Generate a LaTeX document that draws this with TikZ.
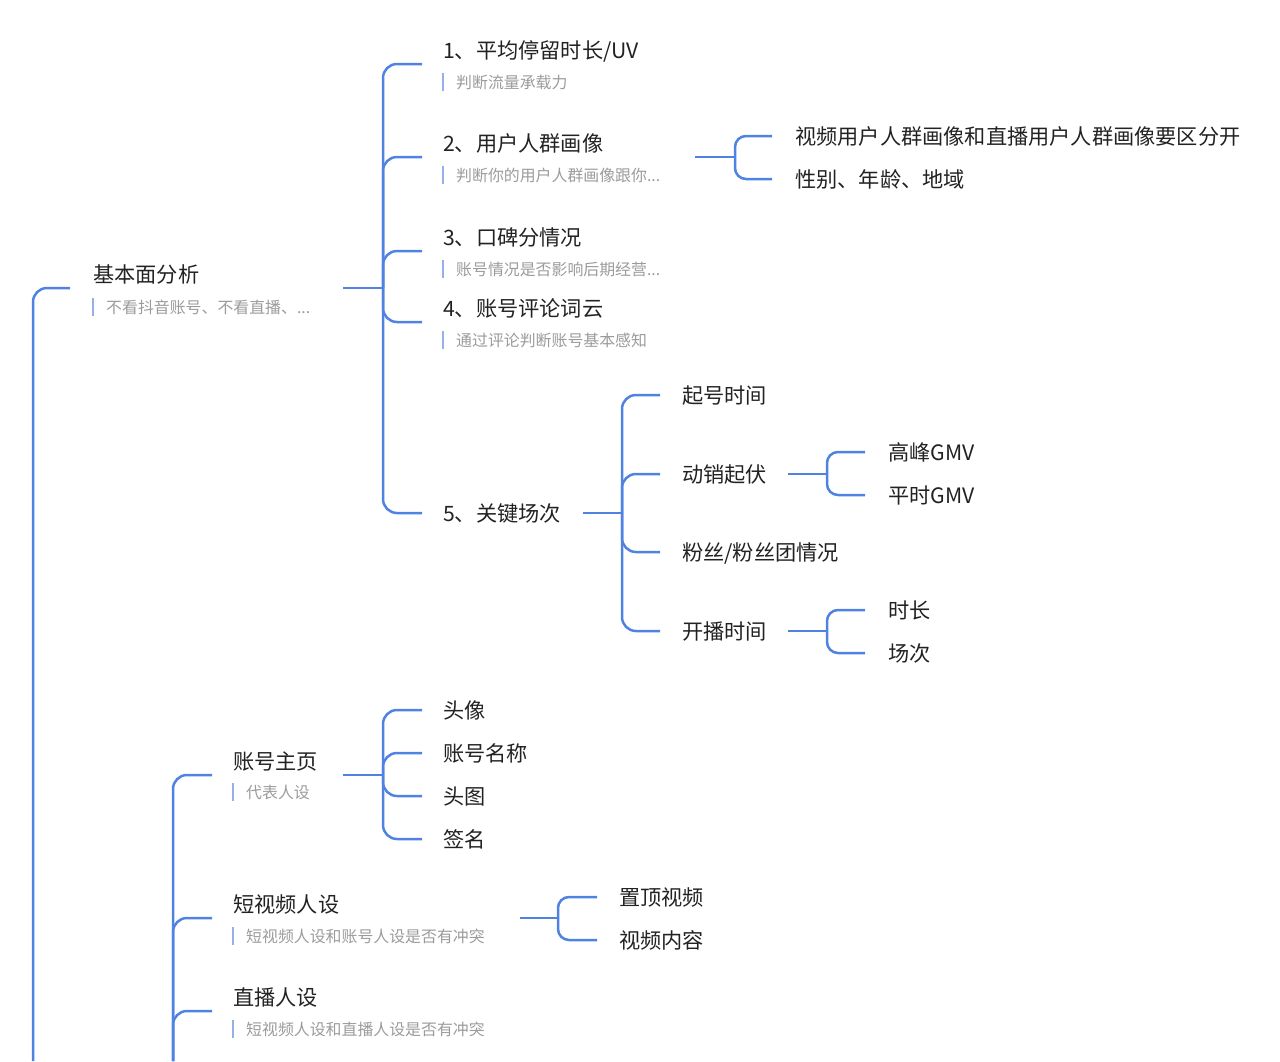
\documentclass[tikz,border=0pt]{standalone}
\usepackage{fontspec}
\setmainfont{Noto Sans CJK SC}
\usetikzlibrary{calc}
\definecolor{ln}{RGB}{80,130,226}
\definecolor{bar}{RGB}{150,175,232}
\definecolor{ttl}{RGB}{34,34,34}
\definecolor{sub}{RGB}{155,155,155}

\begin{document}
\begin{tikzpicture}[x=1pt,y=-1pt,
    topic/.style={anchor=west,inner sep=0pt,text=ttl,
                  font=\fontsize{21.2}{23}\selectfont,
                  text height=17.5pt,text depth=0pt},
    desc/.style={anchor=west,inner sep=0pt,text=sub,
                 font=\fontsize{15.9}{17}\selectfont,
                 text height=13pt,text depth=0pt},
    link/.style={draw=ln,line width=2.5pt,rounded corners=14pt},
    slink/.style={link,rounded corners=11pt},
    barline/.style={draw=bar,line width=2.5pt}]
  \useasboundingbox (0,0) rectangle (1280,1061);

  % first branch
  \node[topic] (n0) at (93,274) {基本面分析};
  \node[desc] (d0) at (106,307) {不看抖音账号、不看直播、...};
  \node[topic] (n1) at (443,50) {1、平均停留时长/UV};
  \node[desc] (d1) at (456,82) {判断流量承载力};
  \node[topic] (n2) at (443,143) {2、用户人群画像};
  \node[desc] (d2) at (456,175) {判断你的用户人群画像跟你...};
  \node[topic] (n3) at (443,237) {3、口碑分情况};
  \node[desc] (d3) at (456,269) {账号情况是否影响后期经营...};
  \node[topic] (n4) at (443,308) {4、账号评论词云};
  \node[desc] (d4) at (456,340) {通过评论判断账号基本感知};
  \node[topic] (n5) at (443,513) {5、关键场次};

  \node[topic] (n21) at (795,136) {视频用户人群画像和直播用户人群画像要区分开};
  \node[topic] (n22) at (795,179) {性别、年龄、地域};

  \node[topic] (n51) at (682,395) {起号时间};
  \node[topic] (n52) at (682,474) {动销起伏};
  \node[topic] (n53) at (682,552) {粉丝/粉丝团情况};
  \node[topic] (n54) at (682,631) {开播时间};
  \node[topic] (n521) at (888,452) {高峰GMV};
  \node[topic] (n522) at (888,495) {平时GMV};
  \node[topic] (n541) at (888,610) {时长};
  \node[topic] (n542) at (888,653) {场次};

  % second branch
  \node[topic] (m1) at (233,761) {账号主页};
  \node[desc] (e1) at (246,792) {代表人设};
  \node[topic] (m2) at (233,904) {短视频人设};
  \node[desc] (e2) at (246,936) {短视频人设和账号人设是否有冲突};
  \node[topic] (m3) at (233,997) {直播人设};
  \node[desc] (e3) at (246,1029) {短视频人设和直播人设是否有冲突};

  \node[topic] (m11) at (443,710) {头像};
  \node[topic] (m12) at (443,753) {账号名称};
  \node[topic] (m13) at (443,796) {头图};
  \node[topic] (m14) at (443,839) {签名};
  \node[topic] (m21) at (619,897) {置顶视频};
  \node[topic] (m22) at (619,940) {视频内容};

  \foreach \d in {d0,d1,d2,d3,d4,e1,e2,e3}
    \draw[barline] ($(\d.west)+(-13,-9)$) -- ++(0,18);

  % spines
  \coordinate (f0) at (33,1061);
  \coordinate (f1) at (173,1061);
  \draw[link] (f0) |- ($(n0.west)+(-23,14)$);
  \foreach \c in {m1,m2,m3}
    \draw[link] (f1) |- ($(\c.west)+(-21,14)$);

  \coordinate (o0) at (343,288);  \coordinate (h0) at (383,288);
  \draw[link] (o0) -- (h0);
  \foreach \c in {n1,n2,n3,n4}
    \draw[link] (h0) |- ($(\c.west)+(-21,14)$);
  \draw[link] (h0) |- ($(n5.west)+(-21,0)$);

  \coordinate (o2) at (695,157);  \coordinate (h2) at (735,157);
  \draw[link] (o2) -- (h2);
  \foreach \c in {n21,n22}
    \draw[slink] (h2) |- ($(\c.west)+(-23,0)$);

  \coordinate (o5) at (583,513);  \coordinate (h5) at (622,513);
  \draw[link] (o5) -- (h5);
  \foreach \c in {n51,n52,n53,n54}
    \draw[link] (h5) |- ($(\c.west)+(-22,0)$);

  \coordinate (o52) at (788,474);  \coordinate (h52) at (827,474);
  \draw[link] (o52) -- (h52);
  \foreach \c in {n521,n522}
    \draw[slink] (h52) |- ($(\c.west)+(-23,0)$);

  \coordinate (o54) at (788,631);  \coordinate (h54) at (827,631);
  \draw[link] (o54) -- (h54);
  \foreach \c in {n541,n542}
    \draw[slink] (h54) |- ($(\c.west)+(-23,0)$);

  \coordinate (p1) at (343,775);  \coordinate (g1) at (383,775);
  \draw[link] (p1) -- (g1);
  \foreach \c in {m11,m12,m13,m14}
    \draw[link] (g1) |- ($(\c.west)+(-21,0)$);

  \coordinate (p2) at (520,918);  \coordinate (g2) at (558,918);
  \draw[link] (p2) -- (g2);
  \foreach \c in {m21,m22}
    \draw[slink] (g2) |- ($(\c.west)+(-22,0)$);
\end{tikzpicture}
\end{document}
